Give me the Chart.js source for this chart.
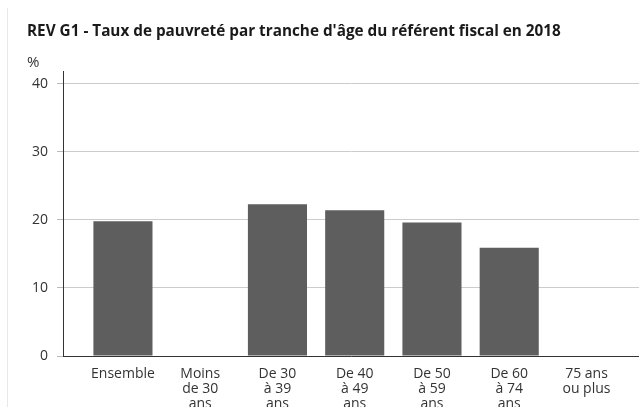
<!DOCTYPE html>
<html>
<head>
<meta charset="utf-8">
<script src="https://cdn.jsdelivr.net/npm/chart.js@4"></script>
<style>
body { margin: 0; background: #fff; }
#wrap { position: relative; width: 639px; height: 407px; }
#frame { position: absolute; left: 7px; top: 8px; width: 1px; height: 399px; background: #e8e8e8; }
</style>
</head>
<body>
<div id="wrap">
<div id="frame"></div>
<canvas id="myChart" width="639" height="407"></canvas>
</div>
<script>
// categories (multi-line labels as shown under the axis)
const categories = [
  ["Ensemble"],
  ["Moins", "de 30", "ans"],
  ["De 30", "à 39", "ans"],
  ["De 40", "à 49", "ans"],
  ["De 50", "à 59", "ans"],
  ["De 60", "à 74", "ans"],
  ["75 ans", "ou plus"]
];
// poverty rate in %, no value shown for two groups
const rates = [19.8, null, 22.3, 21.4, 19.6, 15.9, null];
const yTicks = [0, 10, 20, 30, 40];

const points = categories.map(function (c, i) {
  return { x: i, y: rates[i] };
});

const fontName = "'Open Sans', sans-serif";

new Chart("myChart", {
  type: "bar",
  data: {
    datasets: [{
      label: "Taux de pauvreté",
      data: points,
      backgroundColor: "#5e5e5e",
      borderWidth: 0,
      barPercentage: 0.765,
      categoryPercentage: 1
    }]
  },
  options: {
    responsive: false,
    animation: false,
    layout: { padding: { left: 27, right: 0, top: 22, bottom: 0 } },
    scales: {
      x: {
        type: "linear",
        offset: false,
        min: -0.776,
        max: 6.68,
        grid: { display: false },
        border: { display: true, color: "#333", width: 1 },
        afterBuildTicks: function (scale) {
          scale.ticks = categories.map(function (c, i) { return { value: i }; });
        },
        afterFit: function (scale) { scale.height = 51; },
        ticks: {
          autoSkip: false,
          maxRotation: 0,
          padding: 3,
          color: "#333",
          font: { family: fontName, size: 14, lineHeight: 1.07 },
          callback: function (v) { return categories[v]; }
        }
      },
      y: {
        min: 0,
        max: 41.8,
        afterBuildTicks: function (scale) {
          scale.ticks = yTicks.map(function (t) { return { value: t }; });
        },
        afterFit: function (scale) { scale.width = 36; },
        grid: { color: "#cccccc", lineWidth: 1, tickLength: 6, tickColor: "#bbbbbb" },
        border: { display: true, color: "#333", width: 1 },
        ticks: {
          padding: 9,
          color: "#333",
          font: { family: fontName, size: 14 }
        }
      }
    },
    plugins: {
      legend: { display: false },
      tooltip: { enabled: false },
      title: {
        display: true,
        align: "start",
        text: "REV G1 - Taux de pauvreté par tranche d'âge du référent fiscal en 2018",
        color: "#1a1a1a",
        font: { family: fontName, size: 15.3, weight: "bold" },
        padding: { top: 0, bottom: 13 }
      },
      subtitle: {
        display: true,
        align: "start",
        text: "%",
        color: "#333",
        font: { family: fontName, size: 15 },
        padding: { top: 0, bottom: 0 }
      }
    }
  }
});
</script>
</body>
</html>
